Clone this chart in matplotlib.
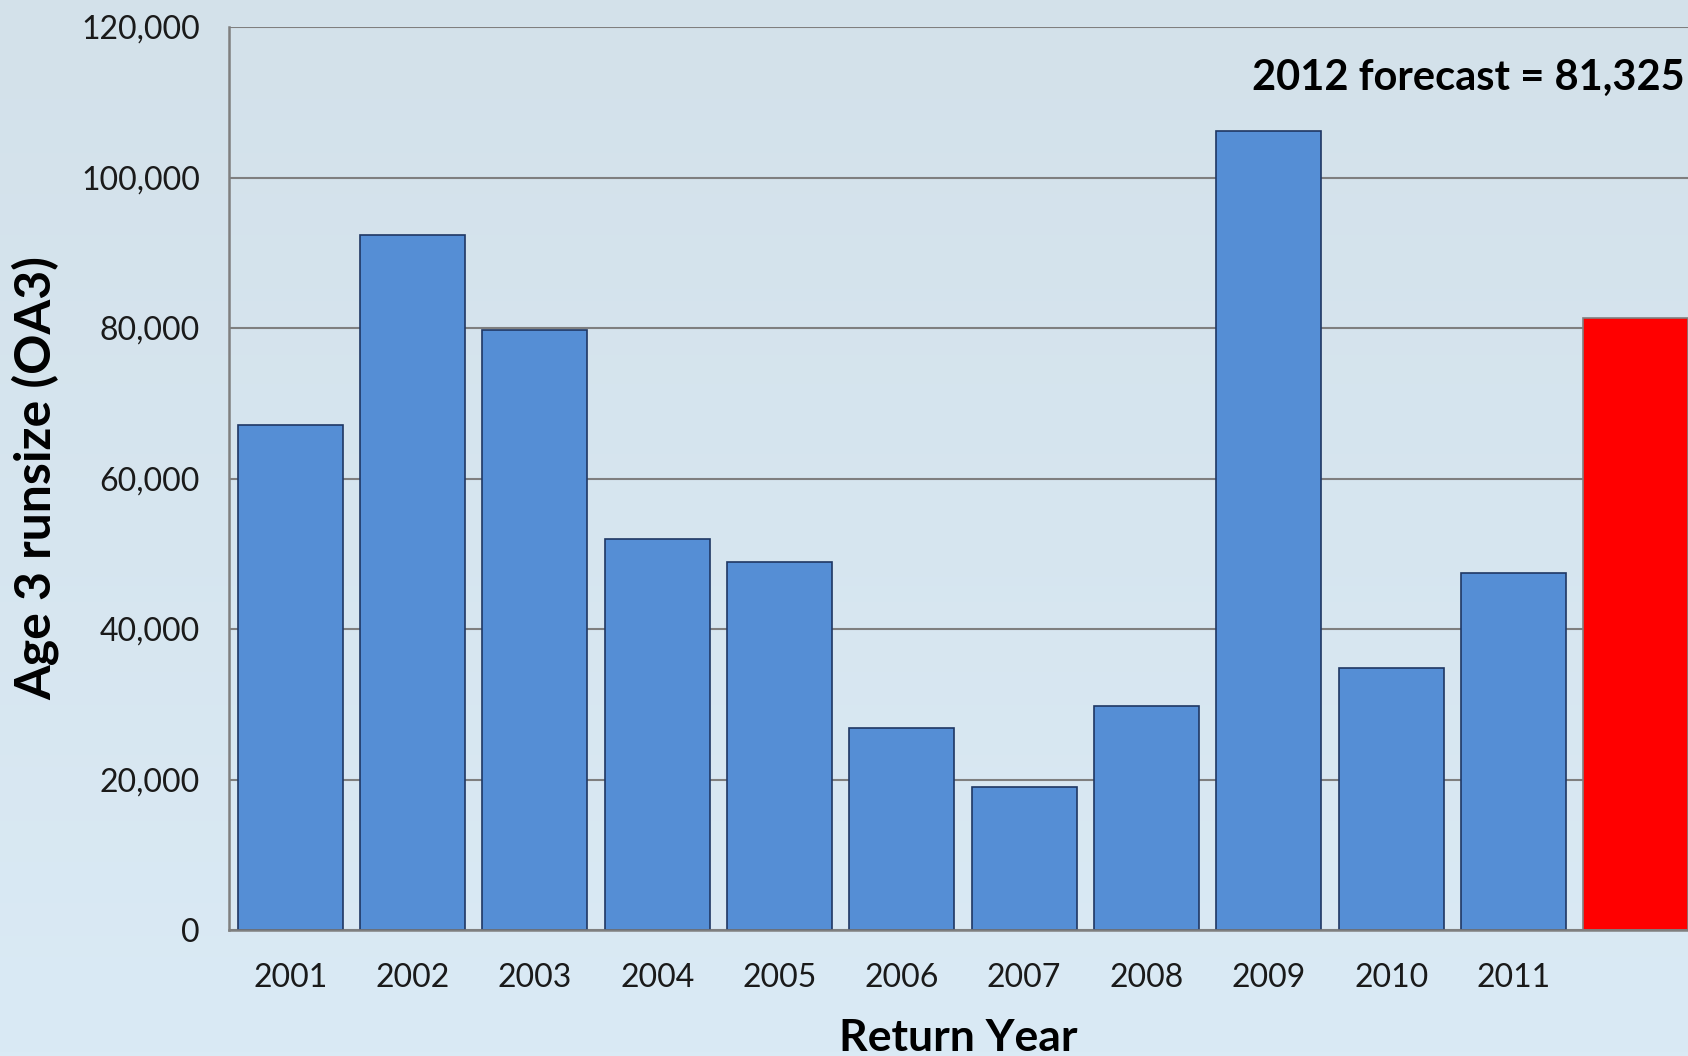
import numpy as np
import matplotlib
matplotlib.use("Agg")
import matplotlib.pyplot as plt
from matplotlib.ticker import FuncFormatter, MultipleLocator

years = ["2001", "2002", "2003", "2004", "2005", "2006", "2007", "2008", "2009", "2010", "2011", ""]
runsize = [67100, 92300, 79700, 51900, 48900, 26800, 19000, 29800, 106200, 34800, 47500, 81325]
forecast_label = "2012 forecast = 81,325"

plt.rcParams['font.family'] = ['Lato', 'DejaVu Sans']

W, H = 1688, 1056
fig = plt.figure(figsize=(W / 100, H / 100), dpi=100)

# gradient background
bg = fig.add_axes([0, 0, 1, 1], zorder=-10)
top = np.array([211, 225, 234]) / 255
bot = np.array([218, 234, 245]) / 255
t = np.linspace(0, 1, 256)[:, None]
grad = top[None, :] * (1 - t) + bot[None, :] * t
bg.imshow(grad[:, None, :].repeat(2, axis=1), aspect='auto', extent=[0, 1, 0, 1])
bg.axis('off')

ax_l, ax_r, ax_t, ax_b = 229, 1697, 27, 930
ax = fig.add_axes([ax_l / W, (H - ax_b) / H, (ax_r - ax_l) / W, (ax_b - ax_t) / H])
ax.patch.set_alpha(0)

x = np.arange(1, len(years) + 1)
colors = ['#558ED5'] * (len(years) - 1) + ['#FF0000']
edges = ['#1F3763'] * (len(years) - 1) + ['#808080']
ax.bar(x, runsize, width=0.86, color=colors, edgecolor=edges, linewidth=1.2, zorder=3)

ax.set_xlim(0.5, len(years) + 0.5)
ax.set_ylim(0, 120000)
ax.yaxis.set_major_locator(MultipleLocator(20000))
ax.yaxis.set_major_formatter(FuncFormatter(lambda v, p: f"{int(v):,}"))
ax.grid(axis='y', color='#7F7F7F', linewidth=1.5, zorder=0)
ax.set_xticks(x)
ax.set_xticklabels(years)
ax.tick_params(axis='both', length=0, labelsize=23, colors='#1a1a1a')
ax.tick_params(axis='y', pad=21)
ax.tick_params(axis='x', pad=24)

for s in ['top', 'right']:
    ax.spines[s].set_visible(False)
for s in ['left', 'bottom']:
    ax.spines[s].set_color('#7F7F7F')
    ax.spines[s].set_linewidth(1.8)
    ax.spines[s].set_zorder(4)

ax.set_ylabel("Age 3 runsize (OA3)", fontsize=36, fontweight='bold')
ax.yaxis.set_label_coords(-0.1318, 0.5)
ax.yaxis.label.set_va('center')
ax.set_xlabel("Return Year", fontsize=32, fontweight='bold')
ax.xaxis.set_label_coords(0.497, -0.12)
ax.xaxis.label.set_va('center')

fig.text(1685 / W, 1 - 78 / H, forecast_label, ha='right', va='center',
         fontsize=30, fontweight='bold', color='black')

fig.savefig("out.png", dpi=100)
